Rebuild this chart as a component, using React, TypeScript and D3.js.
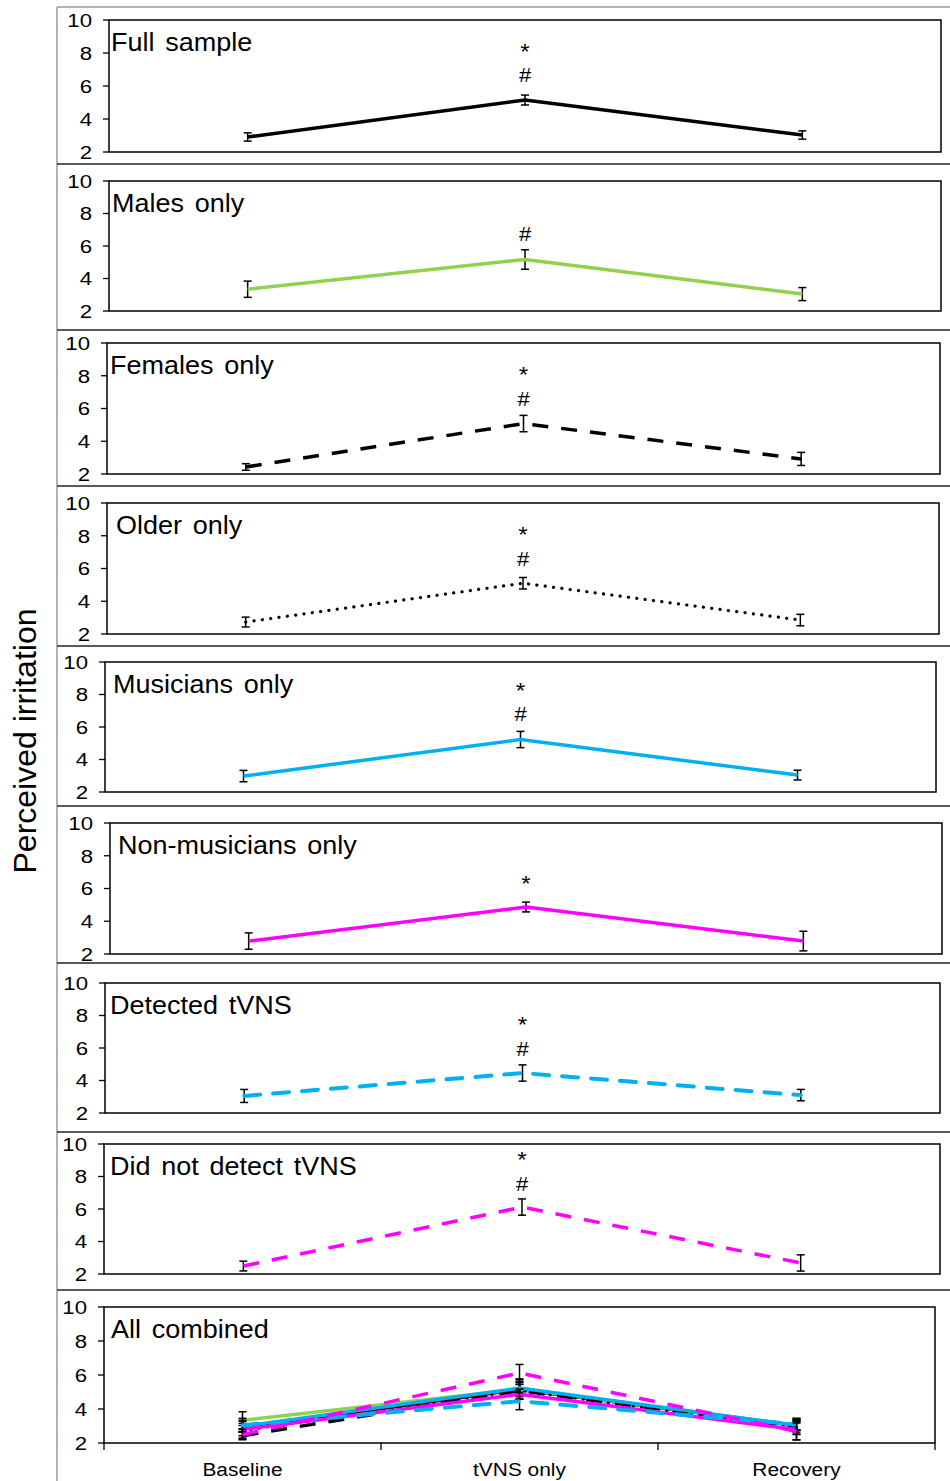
import React from "react";
import * as d3 from "d3";

const categories = ["Baseline", "tVNS only", "Recovery"];
const yTicks = [2, 4, 6, 8, 10];

const fullMean = [2.91, 5.15, 3.03];
const fullErr = [0.25, 0.3, 0.25];
const malesMean = [3.34, 5.17, 3.04];
const malesErr = [0.5, 0.6, 0.4];
const femalesMean = [2.43, 5.08, 2.92];
const femalesErr = [0.2, 0.5, 0.4];
const olderMean = [2.73, 5.1, 2.85];
const olderErr = [0.3, 0.35, 0.35];
const musiciansMean = [2.98, 5.23, 3.04];
const musiciansErr = [0.35, 0.5, 0.3];
const nonMusiciansMean = [2.79, 4.87, 2.79];
const nonMusiciansErr = [0.5, 0.3, 0.6];
const detectedMean = [3.05, 4.46, 3.1];
const detectedErr = [0.4, 0.5, 0.35];
const notDetectedMean = [2.49, 6.12, 2.68];
const notDetectedErr = [0.3, 0.5, 0.5];

const panelTitles = [
  "Full sample",
  "Males only",
  "Females only",
  "Older only",
  "Musicians only",
  "Non-musicians only",
  "Detected tVNS",
  "Did not detect tVNS",
  "All combined",
];

// significance marks: value at tVNS (visual centre), null = absent
const starY = [8.36, null, 8.34, 8.34, 8.52, 6.57, 7.72, 9.3];
const hashY = [6.67, 6.76, 6.6, 6.63, 6.82, null, 6.0, 7.6];

type Style = { color: string; dash: string | null; cap: "butt" | "round"; width: number };

const seriesStyles: Style[] = [
  { color: "#000000", dash: null, cap: "butt", width: 3.5 },
  { color: "#92D050", dash: null, cap: "butt", width: 3.5 },
  { color: "#000000", dash: "16 13", cap: "butt", width: 3.5 },
  { color: "#000000", dash: "0.1 8.3", cap: "round", width: 3.2 },
  { color: "#00B0F0", dash: null, cap: "butt", width: 3.5 },
  { color: "#FF00FF", dash: null, cap: "butt", width: 3.5 },
  { color: "#00B0F0", dash: "16 13", cap: "round", width: 4 },
  { color: "#FF00FF", dash: "16 13", cap: "butt", width: 3.5 },
];

const seriesMeans = [fullMean, malesMean, femalesMean, olderMean, musiciansMean, nonMusiciansMean, detectedMean, notDetectedMean];
const seriesErrs = [fullErr, malesErr, femalesErr, olderErr, musiciansErr, nonMusiciansErr, detectedErr, notDetectedErr];

// layout of each stacked panel (pixels)
const layout = [
  { l: 109, r: 941, t: 20, b: 152, sep: 164, tx: 111 },
  { l: 109, r: 941, t: 181, b: 311, sep: 330, tx: 112 },
  { l: 107, r: 940, t: 343, b: 474, sep: 486, tx: 110 },
  { l: 107, r: 939, t: 503, b: 634, sep: 646, tx: 116 },
  { l: 105, r: 936, t: 662, b: 792, sep: 806, tx: 113 },
  { l: 110, r: 942, t: 823, b: 954, sep: 963, tx: 118 },
  { l: 105, r: 940, t: 983, b: 1113, sep: 1132, tx: 110 },
  { l: 104, r: 940, t: 1144, b: 1274, sep: 1290, tx: 110 },
  { l: 104, r: 935, t: 1307, b: 1443, sep: null, tx: 111 },
];

const FONT = "'Liberation Sans', Arial, sans-serif";

function SText({
  x,
  y,
  sx,
  size,
  anchor,
  children,
  ws,
}: {
  x: number;
  y: number;
  sx: number;
  size: number;
  anchor?: "start" | "middle" | "end";
  children: React.ReactNode;
  ws?: number;
}) {
  return (
    <text
      transform={`translate(${x},${y}) scale(${sx},1)`}
      textAnchor={anchor || "start"}
      fontSize={size}
      fontFamily={FONT}
      fill="#000"
      wordSpacing={ws}
    >
      {children}
    </text>
  );
}

function Series({ idx, x, y }: { idx: number; x: (c: string) => number; y: d3.ScaleLinear<number, number> }) {
  const st = seriesStyles[idx];
  const means = seriesMeans[idx];
  const errs = seriesErrs[idx];
  const line = d3
    .line<number>()
    .x((_, i) => x(categories[i]))
    .y((d) => y(d));
  return (
    <g>
      {means.map((m, i) => {
        const cx = x(categories[i]);
        const y1 = y(m - errs[i]);
        const y2 = y(m + errs[i]);
        return (
          <g key={i} stroke="#000" strokeWidth={1.5}>
            <line x1={cx} x2={cx} y1={y1} y2={y2} />
            <line x1={cx - 4} x2={cx + 4} y1={y1} y2={y1} />
            <line x1={cx - 4} x2={cx + 4} y1={y2} y2={y2} />
          </g>
        );
      })}
      <path
        d={line(means) || ""}
        fill="none"
        stroke={st.color}
        strokeWidth={st.width}
        strokeDasharray={st.dash || undefined}
        strokeLinecap={st.cap}
        strokeLinejoin="round"
      />
    </g>
  );
}

function Panel({ p }: { p: number }) {
  const L = layout[p];
  const band = d3.scaleBand<string>().domain(categories).range([L.l, L.r]).padding(0);
  const x = (c: string) => (band(c) as number) + band.bandwidth() / 2;
  const y = d3.scaleLinear().domain([2, 10]).range([L.b, L.t]);
  const isLast = p === 8;
  const tv = x(categories[1]);
  return (
    <g>
      <rect x={L.l} y={L.t} width={L.r - L.l} height={L.b - L.t} fill="none" stroke="#000" strokeWidth={1.5} />
      {yTicks.map((t) => (
        <g key={t}>
          <line x1={L.l - 6} x2={L.l} y1={y(t)} y2={y(t)} stroke="#000" strokeWidth={1.3} />
          <SText x={L.l - 17} y={y(t) + 6.8} sx={1.17} size={19} anchor="end">
            {t}
          </SText>
        </g>
      ))}
      <SText x={L.tx} y={L.t + 31} sx={1.08} size={25} ws={3}>
        {panelTitles[p]}
      </SText>
      {isLast ? (
        <g>
          {seriesStyles.map((_, i) => (
            <Series key={i} idx={i} x={x} y={y} />
          ))}
          {[L.l, ...categories.map((c) => (band(c) as number) + band.bandwidth())].map((tx, i) => (
            <line key={i} x1={tx} x2={tx} y1={L.b} y2={L.b + 7} stroke="#000" strokeWidth={1.3} />
          ))}
          {categories.map((c) => (
            <SText key={c} x={x(c)} y={L.b + 33} sx={1.1} size={19} anchor="middle">
              {c}
            </SText>
          ))}
        </g>
      ) : (
        <g>
          <Series idx={p} x={x} y={y} />
          {starY[p] !== null && (
            <SText x={tv} y={y(starY[p] as number) + 12} sx={1.1} size={22} anchor="middle">
              *
            </SText>
          )}
          {hashY[p] !== null && (
            <SText x={tv} y={y(hashY[p] as number) + 7.5} sx={1.1} size={20} anchor="middle">
              #
            </SText>
          )}
        </g>
      )}
      {L.sep !== null && <line x1={57} x2={950} y1={L.sep} y2={L.sep} stroke="#222" strokeWidth={1.5} />}
    </g>
  );
}

export default function App() {
  return (
    <svg
      width={950}
      height={1481}
      style={{ position: "absolute", left: 0, top: 0, background: "#fff" }}
      xmlns="http://www.w3.org/2000/svg"
    >
      <rect x={0} y={0} width={950} height={1481} fill="#fff" />
      <line x1={57} x2={950} y1={7} y2={7} stroke="#999" strokeWidth={1.5} />
      <line x1={57} x2={57} y1={7} y2={1481} stroke="#999" strokeWidth={1.5} />
      {panelTitles.map((_, i) => (
        <Panel key={i} p={i} />
      ))}
      <text
        transform="translate(36,741) rotate(-90)"
        textAnchor="middle"
        fontSize={32}
        fontFamily={FONT}
        fill="#000"
      >
        Perceived irritation
      </text>
    </svg>
  );
}
